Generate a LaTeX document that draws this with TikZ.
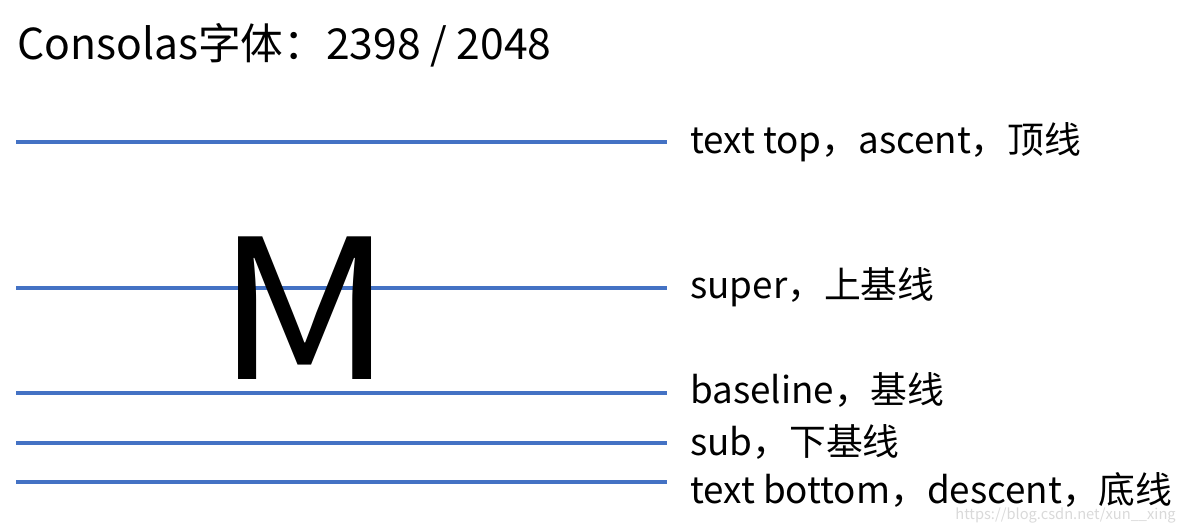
\documentclass[tikz,border=0pt]{standalone}
\usepackage{fontspec}
\setmainfont{Noto Sans CJK SC}
\usetikzlibrary{positioning}

\begin{document}
\begin{tikzpicture}[
    x=0.75pt, y=-0.75pt,
    level/.style={draw={rgb,255:red,68;green,114;blue,196}, line width=2.4pt},
    label/.style={anchor=west, inner sep=0pt, font=\fontsize{27.6}{32}\selectfont},
    title/.style={anchor=west, inner sep=0pt, font=\fontsize{32}{36}\selectfont}
]
\useasboundingbox (0,0) rectangle (1183,531);

\node[title] (head) at (17,45) {Consolas字体：2398 / 2048};

% level lines
\coordinate (topL) at (16,142);   \coordinate (topR) at (667,142);
\coordinate (supL) at (16,288);   \coordinate (supR) at (667,288);
\coordinate (baseL) at (16,393);  \coordinate (baseR) at (667,393);
\coordinate (subL) at (16,443);   \coordinate (subR) at (667,443);
\coordinate (botL) at (16,482);   \coordinate (botR) at (667,482);

\draw[level] (topL) -- (topR);
\draw[level] (supL) -- (supR);
\draw[level] (baseL) -- (baseR);
\draw[level] (subL) -- (subR);
\draw[level] (botL) -- (botR);

\node[inner sep=0pt, anchor=base, font=\fontsize{146}{150}\selectfont] (glyph) at (305,379) {\scalebox{1.12}[1]{M}};

\node[label] (toptext) at (690,142) {text top，ascent，顶线};
\node[label] (suptext) at (690,287) {super，上基线};
\node[label] (basetext) at (690,390) {baseline，基线};
\node[label] (subtext) at (690,442) {sub，下基线};
\node[label] (bottext) at (690,490) {text bottom，descent，底线};

\node[anchor=base east, inner sep=0pt, text=black!15, font=\fontsize{11}{13}\selectfont] (mark) at (1176,519) {https://blog.csdn.net/xun\_\_xing};

\end{tikzpicture}
\end{document}
